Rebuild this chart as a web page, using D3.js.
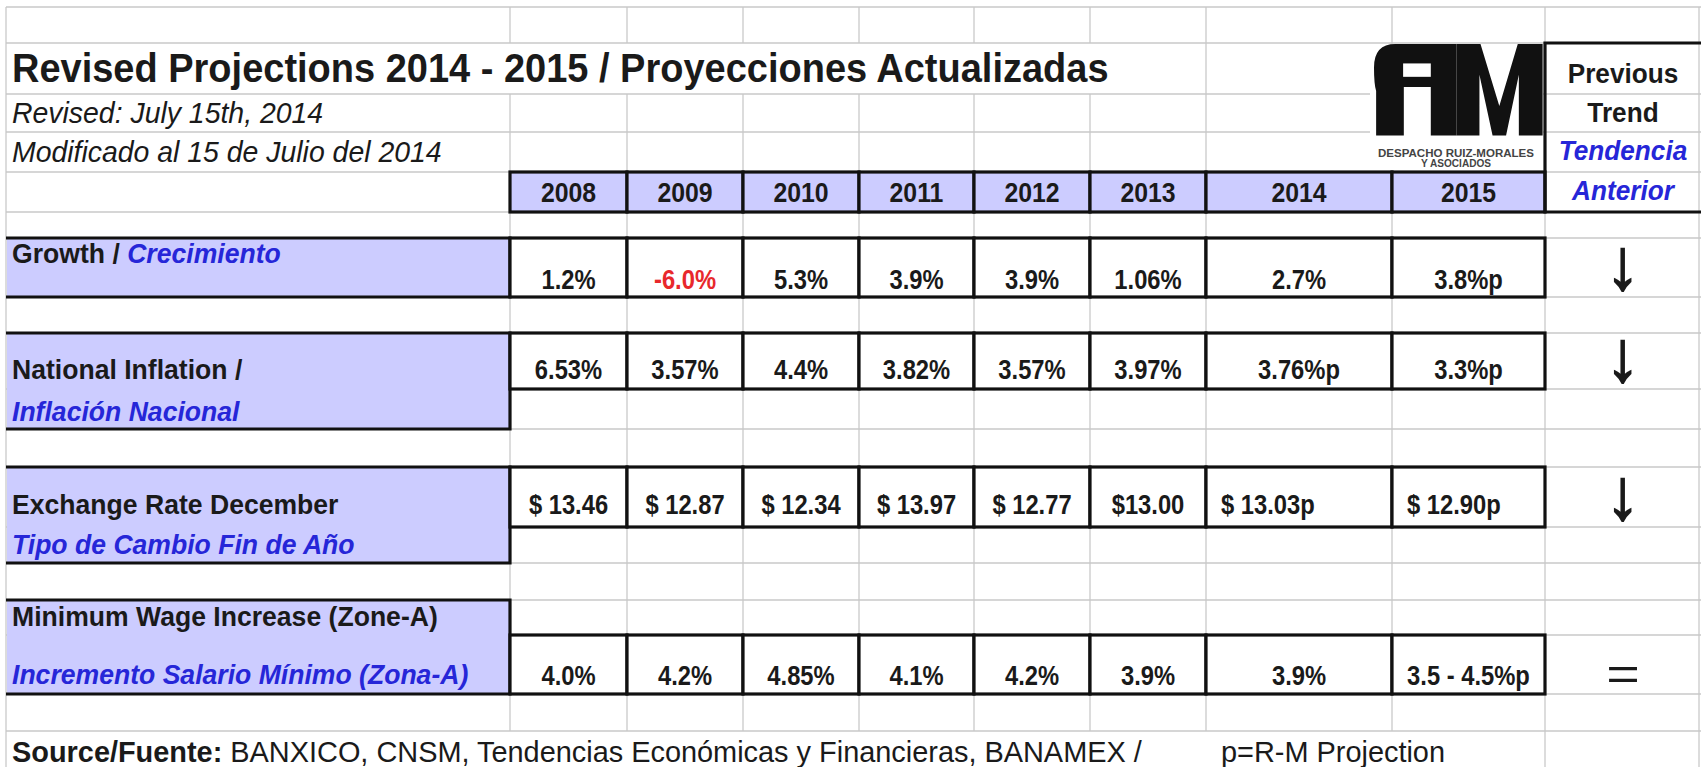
<!DOCTYPE html>
<html>
<head>
<meta charset="utf-8">
<script src="https://cdn.jsdelivr.net/npm/d3@7"></script>
<style>
  body { margin: 0; background: #fff; }
  svg { display: block; }
  text { font-family: "Liberation Sans", Arial, sans-serif; }
</style>
</head>
<body>
<svg id="sheet"></svg>
<script>
// ---- data ----
const years = ['2008', '2009', '2010', '2011', '2012', '2013', '2014', '2015'];
const growth = ['1.2%', '-6.0%', '5.3%', '3.9%', '3.9%', '1.06%', '2.7%', '3.8%p'];
const inflation = ['6.53%', '3.57%', '4.4%', '3.82%', '3.57%', '3.97%', '3.76%p', '3.3%p'];
const exchange = ['$ 13.46', '$ 12.87', '$ 12.34', '$ 13.97', '$ 12.77', '$13.00', '$ 13.03p', '$ 12.90p'];
const wage = ['4.0%', '4.2%', '4.85%', '4.1%', '4.2%', '3.9%', '3.9%', '3.5 - 4.5%p'];
const trend = ['↓', '↓', '↓', '='];
const labelsEn = ['Growth / ', 'National Inflation /', 'Exchange Rate December', 'Minimum Wage Increase (Zone-A)'];
const labelsEs = ['Crecimiento', 'Inflación Nacional', 'Tipo de Cambio Fin de Año', 'Incremento Salario Mínimo (Zona-A)'];
const trendHeader = ['Previous', 'Trend', 'Tendencia', 'Anterior'];
const title = 'Revised Projections 2014 - 2015 / Proyecciones Actualizadas';
const subtitles = ['Revised: July 15th, 2014', 'Modificado al 15 de Julio del 2014'];
const sourceBold = 'Source/Fuente:';
const sourceText = ' BANXICO, CNSM, Tendencias Económicas y Financieras, BANAMEX /';
const projNote = 'p=R-M Projection';

// ---- layout ----
const W = 1701, H = 767;
const colEdges = [6, 510, 627, 743, 859, 974, 1090, 1206, 1392, 1545, 1699];
const rowEdges = [7, 43, 94, 132, 172, 212, 238, 297, 333, 389, 429, 467, 527, 563, 600, 635, 694, 731, 790];

const black = '#1a1a1a', blue = '#2626d8', red = '#e8282c', lav = '#ccccff', grid = '#c9c9c9';

const svg = d3.select('#sheet').attr('width', W).attr('height', H);

const xl = d3.scaleOrdinal().domain(years).range(colEdges.slice(1, 9));
const xr = d3.scaleOrdinal().domain(years).range(colEdges.slice(2, 10));
const xc = d => (xl(d) + xr(d)) / 2;
const trendX = (colEdges[9] + 1701) / 2;

// text in the sheet is a bit condensed: draw at x,y squeezed horizontally
const place = (sel, fx, fy, sx, sy = 1) => sel.attr('transform', (d, i) => `translate(${fx(d, i)},${fy(d, i)}) scale(${sx},${sy})`);

// ---- gray gridlines ----
const gGrid = svg.append('g').attr('stroke', grid).attr('stroke-width', 1.3);
const hidden = (ci, ri) => (ri === 1 && ci >= 1 && ci <= 6) || (ri === 17 && ci >= 1 && ci <= 8);
const vsegs = [];
colEdges.forEach((cx, ci) => {
  d3.range(rowEdges.length - 1).forEach(ri => {
    if (!hidden(ci, ri)) vsegs.push({x: cx, y0: rowEdges[ri], y1: rowEdges[ri + 1]});
  });
});
gGrid.selectAll('line.v').data(vsegs).join('line')
  .attr('x1', d => d.x).attr('x2', d => d.x).attr('y1', d => d.y0).attr('y2', d => d.y1);
gGrid.selectAll('line.h').data(rowEdges.slice(0, -1)).join('line')
  .attr('x1', colEdges[0]).attr('x2', W).attr('y1', d => d).attr('y2', d => d);

// ---- logo (pasted picture with white background) ----
const logo = svg.append('g');
logo.append('rect').attr('x', 1370).attr('y', 44).attr('width', 173).attr('height', 127).attr('fill', '#fff');
const lg = logo.append('g').attr('transform', 'translate(1374,44) scale(0.355,0.335)').attr('fill', '#111');
lg.append('path').attr('d', 'M60,0 H232 V273 H160 V128 H84 V273 H6 V140 Q0,120 0,70 Q0,0 60,0 Z');
lg.append('rect').attr('x', 82).attr('y', 58).attr('width', 78).attr('height', 40).attr('fill', '#fff');
lg.append('path').attr('d', 'M232,0 H300 L353,185 L405,0 H475 V273 H408 V92 L372,273 H334 L297,92 V273 H232 Z');
logo.append('text').attr('x', 1456).attr('y', 157).attr('text-anchor', 'middle')
  .attr('font-size', 11).attr('font-weight', 'bold').attr('fill', '#444').attr('textLength', 156).attr('lengthAdjust', 'spacingAndGlyphs')
  .text('DESPACHO RUIZ-MORALES');
logo.append('text').attr('x', 1456).attr('y', 167).attr('text-anchor', 'middle')
  .attr('font-size', 10).attr('font-weight', 'bold').attr('fill', '#444').attr('textLength', 70).attr('lengthAdjust', 'spacingAndGlyphs')
  .text('Y ASOCIADOS');

// ---- boxes ----
const thick = 3.2;
const gBox = svg.append('g');

const labelSpans = [[6, 7], [8, 10], [11, 13], [14, 16]];
const valueRows = [6, 8, 11, 15];
labelSpans.forEach(([a, b]) => {
  const y0 = rowEdges[a], y1 = rowEdges[b];
  gBox.append('rect').attr('x', 7).attr('y', y0).attr('width', colEdges[1] - 7).attr('height', y1 - y0).attr('fill', lav);
  gBox.append('path').attr('fill', 'none').attr('stroke', '#111').attr('stroke-width', thick)
    .attr('d', `M6,${y0} H${colEdges[1]} V${y1} H6`);
});

gBox.selectAll('rect.year').data(years).join('rect')
  .attr('x', d => xl(d)).attr('y', rowEdges[4]).attr('width', d => xr(d) - xl(d)).attr('height', rowEdges[5] - rowEdges[4])
  .attr('fill', lav).attr('stroke', '#111').attr('stroke-width', thick);

valueRows.forEach(r => {
  gBox.selectAll(null).data(years).join('rect')
    .attr('x', d => xl(d)).attr('y', rowEdges[r]).attr('width', d => xr(d) - xl(d)).attr('height', rowEdges[r + 1] - rowEdges[r])
    .attr('fill', '#fff').attr('stroke', '#111').attr('stroke-width', thick);
});

gBox.append('path').attr('fill', 'none').attr('stroke', '#111').attr('stroke-width', thick)
  .attr('d', `M${W + 5},${rowEdges[1]} H${colEdges[9]} V${rowEdges[5]} H${W + 5}`);

// ---- texts ----
const gT = svg.append('g').attr('fill', black);

place(gT.append('text').attr('font-size', 40).attr('font-weight', 'bold').text(title), () => 12, () => 82, 0.95);
place(gT.selectAll('text.sub').data(subtitles).join('text').attr('font-size', 29).attr('font-style', 'italic').text(d => d),
  () => 12, (d, i) => [123, 162][i], 0.98);

place(gT.selectAll('text.yr').data(years).join('text').attr('text-anchor', 'middle')
  .attr('font-size', 27).attr('font-weight', 'bold').text(d => d), d => xc(d), () => 202, 0.92);

place(gT.selectAll('text.th').data(trendHeader).join('text').attr('text-anchor', 'middle')
  .attr('font-size', 27).attr('font-weight', 'bold').attr('font-style', (d, i) => i > 1 ? 'italic' : null)
  .attr('fill', (d, i) => i > 1 ? blue : black).text(d => d),
  () => trendX, (d, i) => [83, 122, 160, 200][i], 0.97);

// row labels
const labelFs = 27, labelSx = 0.985;
const g1 = gT.append('text').attr('font-size', labelFs).attr('font-weight', 'bold');
g1.append('tspan').text(labelsEn[0]);
g1.append('tspan').attr('fill', blue).attr('font-style', 'italic').text(labelsEs[0]);
place(g1, () => 12, () => 263, labelSx);
const enY = [null, 379, 514, 626];
const esY = [null, 421, 554, 684];
[1, 2, 3].forEach(i => {
  place(gT.append('text').attr('font-size', labelFs).attr('font-weight', 'bold').text(labelsEn[i]), () => 12, () => enY[i], labelSx);
  place(gT.append('text').attr('font-size', labelFs).attr('font-weight', 'bold')
    .attr('font-style', 'italic').attr('fill', blue).text(labelsEs[i]), () => 12, () => esY[i], labelSx);
});

// values
const series = [
  {key: 'growth', vals: growth, y: 289},
  {key: 'inflation', vals: inflation, y: 379},
  {key: 'exchange', vals: exchange, y: 514},
  {key: 'wage', vals: wage, y: 685}
];
series.forEach(s => {
  const left = i => s.key === 'exchange' && i >= 6;
  place(gT.selectAll(null).data(years).join('text')
    .attr('text-anchor', (d, i) => left(i) ? 'start' : 'middle')
    .attr('font-size', 27).attr('font-weight', 'bold')
    .attr('fill', (d, i) => s.vals[i].startsWith('-') ? red : black)
    .text((d, i) => s.vals[i]),
    (d, i) => left(i) ? xl(d) + 15 : xc(d), () => s.y, 0.88);
});

// trend symbols: the arrow glyph is drawn tall with a wide head, "=" wide and thin
const trendY = [289, 381, 519, 690];
gT.selectAll('text.tr').data(trend).join('text')
  .attr('text-anchor', 'middle')
  .attr('font-size', d => d === '=' ? 46 : 52)
  .attr('stroke', black).attr('stroke-width', d => d === '=' ? 0 : 1.3)
  .attr('transform', (d, i) => d === '='
    ? `translate(${trendX},${trendY[i]}) scale(1.25,1)`
    : `translate(${trendX},${trendY[i]}) scale(1.3,1.38)`)
  .text(d => d);

// source line
const src = gT.append('text').attr('font-size', 29.5);
src.append('tspan').attr('font-weight', 'bold').text(sourceBold);
src.append('tspan').text(sourceText);
place(src, () => 12, () => 762, 0.98);
place(gT.append('text').attr('font-size', 29.5).text(projNote), () => 1221, () => 762, 0.98);
</script>
</body>
</html>
